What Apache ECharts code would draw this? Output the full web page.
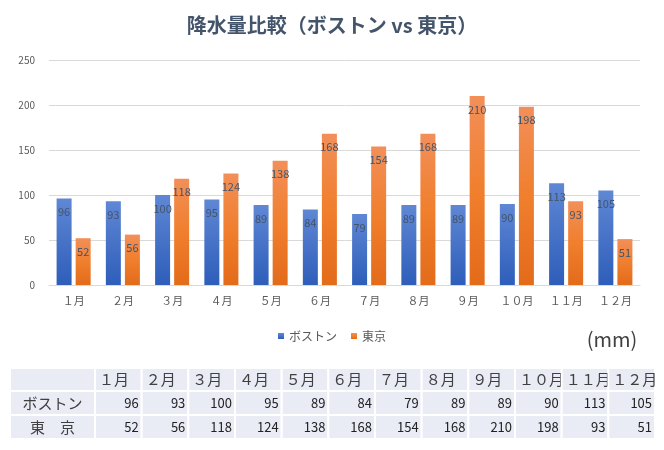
<!DOCTYPE html>
<html><head><meta charset="utf-8">
<script src="https://cdn.jsdelivr.net/npm/echarts@6/dist/echarts.min.js"></script>
<style>html,body{margin:0;padding:0;background:#fff}#c{width:664px;height:450px}</style>
</head><body><div id="c"></div>
<script>
const titleText = '降水量比較（ボストン vs 東京）';
const months = ['１月','２月','３月','４月','５月','６月','７月','８月','９月','１０月','１１月','１２月'];
const seriesNames = ['ボストン','東京'];
const tableRowLabels = ['ボストン','東　京'];
const boston = [96,93,100,95,89,84,79,89,89,90,113,105];
const tokyo = [52,56,118,124,138,168,154,168,210,198,93,51];
const unitText = '(mm)';

const FONT = '"Noto Sans CJK JP", "Noto Sans", sans-serif';
const chart = echarts.init(document.getElementById('c'), null, {renderer:'canvas'});

const blueGrad = {type:'linear',x:0,y:0,x2:0,y2:1,colorStops:[{offset:0,color:'#5f87d4'},{offset:1,color:'#2e5eba'}]};
const orangeGrad = {type:'linear',x:0,y:0,x2:0,y2:1,colorStops:[{offset:0,color:'#f28f59'},{offset:0.5,color:'#f07f2e'},{offset:1,color:'#e36b1a'}]};

// table built from arrays
const tbl = [];
const x0 = 10, firstW = 85, colW = 46.67;
const rowY = [368, 391, 415, 439];
const rowsData = [boston, tokyo];
function cell(x, y, w, h){
  tbl.push({type:'rect', shape:{x:x, y:y, width:w, height:h}, style:{fill:'#e9ebf5', stroke:'#ffffff', lineWidth:2}, silent:true});
}
for (let r = 0; r < 3; r++) {
  const y = rowY[r], h = rowY[r+1] - rowY[r];
  cell(x0, y, firstW, h);
  if (r > 0) {
    tbl.push({type:'text', x: x0 + firstW/2, y: y + h/2, style:{text: tableRowLabels[r-1], font: '15px ' + FONT, fill:'#404040', align:'center', verticalAlign:'middle'}, silent:true});
  }
  for (let c = 0; c < months.length; c++) {
    const cx = x0 + firstW + c*colW;
    cell(cx, y, colW, h);
    if (r === 0) {
      tbl.push({type:'text', x: cx + 4, y: y + h/2, style:{text: months[c], font: '15px ' + FONT, fill:'#404040', align:'left', verticalAlign:'middle'}, silent:true});
    } else {
      tbl.push({type:'text', x: cx + colW - 3, y: y + h/2, style:{text: String(rowsData[r-1][c]), font: '13px ' + FONT, fill:'#222222', align:'right', verticalAlign:'middle'}, silent:true});
    }
  }
}
tbl.push({type:'text', x: 612, y: 339, style:{text: unitText, font: '20px ' + FONT, fill:'#404040', align:'center', verticalAlign:'middle'}, silent:true});

const labelOpt = {show:true, position:'insideTop', distance:8, color:'#44546a', fontSize:11, fontFamily:FONT};

chart.setOption({
  animation:false,
  backgroundColor:'#ffffff',
  title:{text:titleText, left:'center', top:10, textStyle:{fontFamily:FONT, fontSize:20, fontWeight:'bold', color:'#44546a'}},
  legend:{data:seriesNames, left:'center', top:325, icon:'rect', itemWidth:6, itemHeight:6, itemGap:14,
    textStyle:{fontFamily:FONT, fontSize:12, color:'#595959'}},
  grid:{left:49, right:24, top:60, bottom:165, containLabel:false},
  xAxis:{type:'category', data:months, axisTick:{show:false},
    axisLine:{lineStyle:{color:'#d9d9d9'}},
    axisLabel:{color:'#595959', fontSize:11, fontFamily:FONT, margin:10}},
  yAxis:{type:'value', min:0, max:250, interval:50,
    axisLine:{show:false}, axisTick:{show:false},
    axisLabel:{color:'#595959', fontSize:10, fontFamily:FONT, margin:14},
    splitLine:{lineStyle:{color:'#d9d9d9'}}},
  series:[
    {name:seriesNames[0], type:'bar', data:boston, barWidth:15, barGap:'27%', itemStyle:{color:blueGrad}, label:labelOpt},
    {name:seriesNames[1], type:'bar', data:tokyo, barWidth:15, itemStyle:{color:orangeGrad}, label:labelOpt}
  ],
  graphic: tbl
});
</script></body></html>
